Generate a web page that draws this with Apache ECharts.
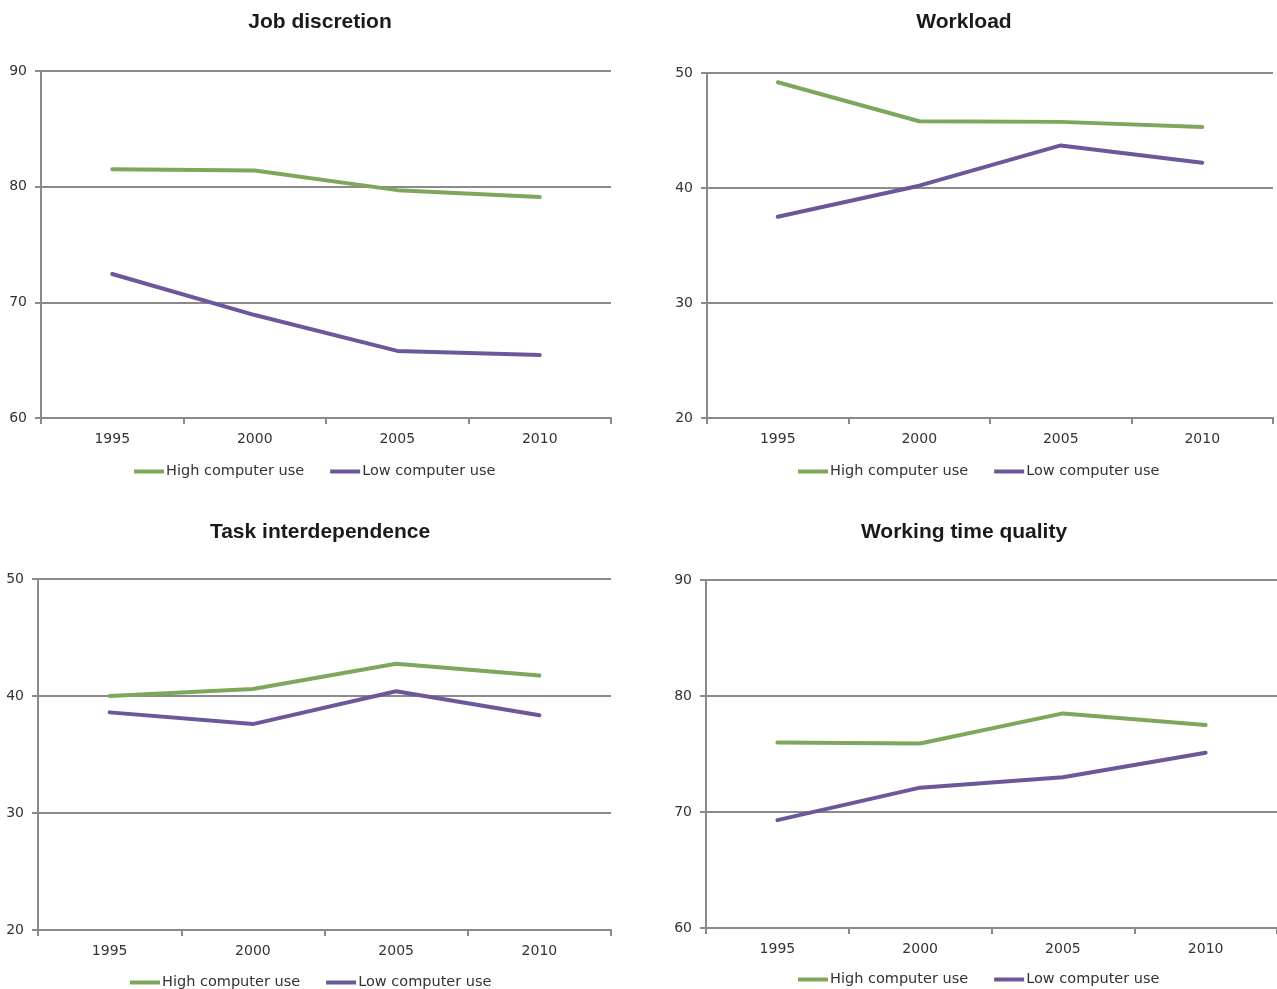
<!DOCTYPE html>
<html>
<head>
<meta charset="utf-8">
<script src="https://cdn.jsdelivr.net/npm/echarts@6/dist/echarts.min.js"></script>
<style>
  html, body { margin: 0; padding: 0; background: #fff; }
  #chart { width: 1277px; height: 989px; }
</style>
</head>
<body>
<div id="chart"></div>
<script>
// Survey years shown on every panel
const years = ['1995', '2000', '2005', '2010'];

// Job discretion
const jobHigh = [81.5, 81.4, 79.7, 79.1];
const jobLow = [72.45, 68.9, 65.8, 65.45];

// Workload
const workHigh = [49.2, 45.8, 45.75, 45.3];
const workLow = [37.5, 40.2, 43.7, 42.2];

// Task interdependence
const taskHigh = [40.0, 40.6, 42.75, 41.75];
const taskLow = [38.6, 37.6, 40.4, 38.35];

// Working time quality
const timeHigh = [76.0, 75.9, 78.5, 77.5];
const timeLow = [69.3, 72.1, 73.0, 75.1];

const seriesNames = ['High computer use', 'Low computer use'];
const titles = ['Job discretion', 'Workload', 'Task interdependence', 'Working time quality'];
const yRanges = [[60, 90], [20, 50], [20, 50], [60, 90]];

const GREEN = '#7ea75b';
const PURPLE = '#6b5799';
const GRAY = '#8a8a8a';
const LABEL_FONT = '"DejaVu Sans", Verdana, sans-serif';

const panels = [
  { high: jobHigh, low: jobLow, grid: { left: 41, right: 666, top: 71, bottom: 571 }, titleX: 315, titleY: 7, legendX: 129, legendY: 459 },
  { high: workHigh, low: workLow, grid: { left: 707, right: 4, top: 73, bottom: 571 }, titleX: 959, titleY: 7, legendX: 793, legendY: 459 },
  { high: taskHigh, low: taskLow, grid: { left: 38, right: 666, top: 579, bottom: 59 }, titleX: 315, titleY: 517, legendX: 125, legendY: 970 },
  { high: timeHigh, low: timeLow, grid: { left: 706, right: 0, top: 580, bottom: 61 }, titleX: 959, titleY: 517, legendX: 793, legendY: 967 }
];

const option = {
  animation: false,
  backgroundColor: '#ffffff',
  title: [],
  legend: [],
  grid: [],
  xAxis: [],
  yAxis: [],
  series: []
};

panels.forEach((p, i) => {
  option.title.push({
    text: titles[i],
    left: p.titleX,
    top: p.titleY,
    textAlign: 'center',
    textStyle: { fontFamily: '"Liberation Sans", Arial, sans-serif', fontWeight: 'bold', fontSize: 21, color: '#1a1a1a' }
  });
  option.grid.push(Object.assign({ containLabel: false }, p.grid));
  option.xAxis.push({
    type: 'category',
    gridIndex: i,
    data: years,
    boundaryGap: true,
    axisLine: { show: true, lineStyle: { color: GRAY, width: 2 } },
    axisTick: { show: true, length: 6, lineStyle: { color: GRAY, width: 2 } },
    axisLabel: { color: '#333', fontFamily: LABEL_FONT, fontSize: 14, margin: 14 },
    splitLine: { show: false }
  });
  option.yAxis.push({
    type: 'value',
    gridIndex: i,
    min: yRanges[i][0],
    max: yRanges[i][1],
    interval: 10,
    axisLine: { show: true, lineStyle: { color: GRAY, width: 2 } },
    axisTick: { show: true, length: 6, lineStyle: { color: GRAY, width: 2 } },
    axisLabel: { color: '#333', fontFamily: LABEL_FONT, fontSize: 14, margin: 14 },
    splitLine: { show: true, lineStyle: { color: GRAY, width: 2 } }
  });
  [p.high, p.low].forEach((vals, k) => {
    option.series.push({
      name: seriesNames[k],
      type: 'line',
      xAxisIndex: i,
      yAxisIndex: i,
      data: vals,
      symbol: 'none',
      lineStyle: { width: 4, color: k === 0 ? GREEN : PURPLE, cap: 'round' },
      itemStyle: { color: k === 0 ? GREEN : PURPLE },
      z: 3
    });
  });
  option.legend.push({
    data: seriesNames.map((n, k) => ({ name: n, icon: 'rect', itemStyle: { color: k === 0 ? GREEN : PURPLE } })),
    left: p.legendX,
    top: p.legendY,
    itemWidth: 30,
    itemHeight: 4,
    itemGap: 26,
    selectedMode: false,
    textStyle: { color: '#333', fontFamily: LABEL_FONT, fontSize: 14.5, padding: [0, 0, 0, -3] }
  });
});

const chart = echarts.init(document.getElementById('chart'), null, { renderer: 'canvas' });
chart.setOption(option);
</script>
</body>
</html>
